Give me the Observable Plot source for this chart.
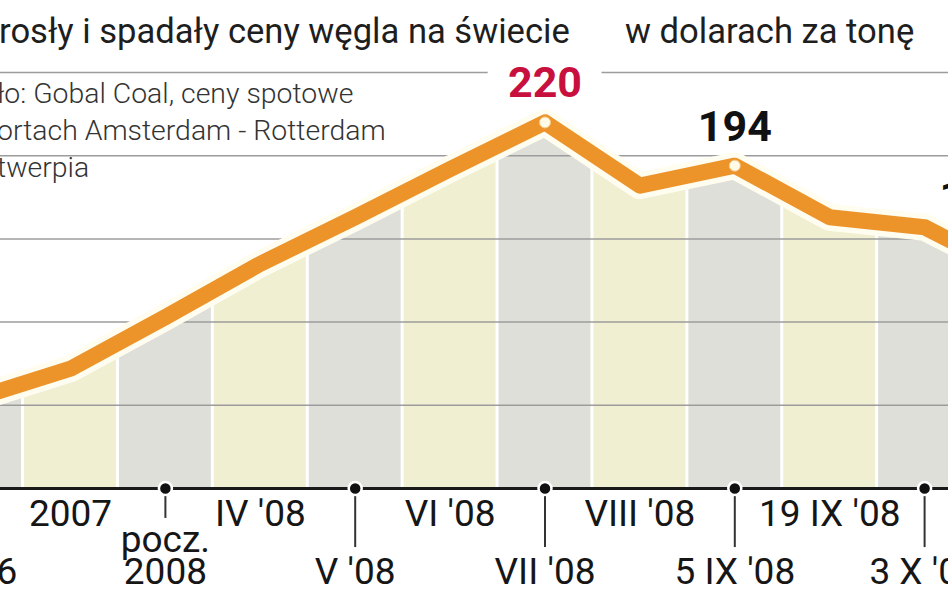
<!DOCTYPE html>
<html>
<head>
<meta charset="utf-8">
<script src="https://cdn.jsdelivr.net/npm/d3@7"></script>
<script src="https://cdn.jsdelivr.net/npm/@observablehq/plot@0.6"></script>
<style>
  html, body { margin: 0; padding: 0; background: #fff; overflow: hidden; }
  #wrap { position: relative; width: 948px; height: 593px; overflow: hidden; font-family: Roboto, sans-serif; }
  #wrap svg { position: absolute; left: 0; top: 0; }
  .title { position: absolute; top: 14px; font-size: 34.6px; line-height: 34px; color: #1e1e1e; white-space: nowrap; }
  .source { position: absolute; left: -3px; top: 75px; font-size: 28.4px; line-height: 37px; font-weight: 300; color: #333; white-space: nowrap; }
</style>
</head>
<body>
<div id="wrap">
  <div class="title" style="left:-1px">rosły i spadały ceny węgla na świecie</div>
  <div class="title" style="left:625px">w dolarach za tonę</div>
  <div class="source">ło: Gobal Coal, ceny spotowe<br>ortach Amsterdam - Rotterdam<br>twerpia</div>
</div>
<script>
// ---- data ----
const categories = ["2006", "2007", "pocz.\n2008", "IV '08", "V '08", "VI '08", "VII '08", "VIII '08", "5 IX '08", "19 IX '08", "3 X '08", ""];
const prices = [54, 72, 103, 135, 163, 192, 220, 182, 194, 163, 157, 128];
const gridValues = [50, 100, 150, 200, 250];
const annotated = ["VII '08", "5 IX '08", "3 X '08"];

// ---- styling / layout ----
const W = 948, H = 593;
const X0 = 70, STEP = 94.9;
const GRAY = "#dfdfd9", YELLOW = "#f0efd2", ORANGE = "#ec942a", RED = "#c8103f";

const data = categories.map((cat, i) => ({i, cat, value: prices[i]}));
const maxVal = d3.max(prices);
const isLocalMax = d => d.i > 0 && d.i < data.length - 1 && d.value > data[d.i - 1].value && d.value > data[d.i + 1].value;
const notes = data.filter(d => annotated.includes(d.cat));
const peakNotes = notes.filter(isLocalMax);
const sideNotes = notes.filter(d => !isLocalMax(d));

const chart = Plot.plot({
  width: W,
  height: H,
  marginTop: 72,
  marginBottom: 105,
  marginLeft: 0,
  marginRight: 0,
  style: {fontFamily: "Roboto, sans-serif", background: "transparent", overflow: "hidden"},
  x: {domain: [1 - X0 / STEP, 1 + (W - X0) / STEP], range: [0, W], axis: null},
  y: {domain: [0, 250], axis: null},
  marks: [
    // alternating columns
    Plot.rect(data, {filter: d => d.i % 2 === 0, x1: d => d.i - 0.5, x2: d => d.i + 0.5, y1: 0, y2: 250, fill: GRAY, insetLeft: 1.5, insetRight: 1.5}),
    Plot.rect(data, {filter: d => d.i % 2 === 1, x1: d => d.i - 0.5, x2: d => d.i + 0.5, y1: 0, y2: 250, fill: YELLOW, insetLeft: 1.5, insetRight: 1.5}),
    // white above the line
    Plot.areaY(data, {x: "i", y1: "value", y2: 250, fill: "white"}),
    // gridlines
    Plot.ruleY(gridValues, {stroke: "#9c9c9c", strokeWidth: 1.5}),
    // baseline axis
    Plot.ruleY([0], {stroke: "#1a1a1a", strokeWidth: 3}),
    // knockout behind the max label
    Plot.text(peakNotes.filter(d => d.value === maxVal), {x: "i", y: "value", text: d => String(d.value), lineAnchor: "bottom", dy: -25, fontSize: 43, fontWeight: 700, fill: "white", stroke: "white", strokeWidth: 44, strokeLinejoin: "round"}),
    // line shadow, halo, line
    Plot.line(data, {x: "i", y: "value", stroke: "#8a8a8a", strokeWidth: 30, strokeOpacity: 0.5, dy: 8, strokeLinejoin: "round", ariaLabel: "shadow"}),
    Plot.line(data, {x: "i", y: "value", stroke: "#fffdf0", strokeWidth: 27, strokeLinejoin: "round"}),
    Plot.line(data, {x: "i", y: "value", stroke: ORANGE, strokeWidth: 16, strokeLinejoin: "round"}),
    // markers at peaks
    Plot.dot(peakNotes, {x: "i", y: "value", r: 5.5, fill: "#fffbe6", stroke: "#f6c887", strokeWidth: 1}),
    // value labels
    Plot.text(peakNotes, {x: "i", y: "value", text: d => String(d.value), lineAnchor: "bottom", dy: -25, fontSize: 43, fontWeight: 700, fill: d => d.value === maxVal ? RED : "#111"}),
    Plot.text(sideNotes, {x: "i", y: "value", text: d => String(d.value), lineAnchor: "bottom", textAnchor: "start", dx: 15, dy: -16, fontSize: 43, fontWeight: 700, fill: "#111"}),
    // ticks with dots for the lower-row labels
    Plot.ruleX(data, {filter: d => d.i % 2 === 0, x: "i", y1: 0, y2: d => d.cat.includes("\n") ? -18 : -35.5, stroke: "#333", strokeWidth: 2}),
    Plot.dot(data, {filter: d => d.i % 2 === 0, x: "i", y: 0, r: 6.5, fill: "#111", stroke: "white", strokeWidth: 2.5}),
    // category labels
    Plot.text(data, {filter: d => d.i % 2 === 1, x: "i", y: 0, text: "cat", lineAnchor: "bottom", dy: 37, fontSize: 37, fill: "#161616"}),
    Plot.text(data, {filter: d => d.i % 2 === 0, x: "i", y: 0, text: "cat", lineAnchor: "bottom", dy: 95, fontSize: 37, lineHeight: 0.86, fill: "#161616"})
  ]
});

d3.select(chart).selectAll('g[aria-label="shadow"]').style("filter", "blur(5px)");
const wrap = document.getElementById("wrap");
wrap.insertBefore(chart, wrap.firstChild);
</script>
</body>
</html>
